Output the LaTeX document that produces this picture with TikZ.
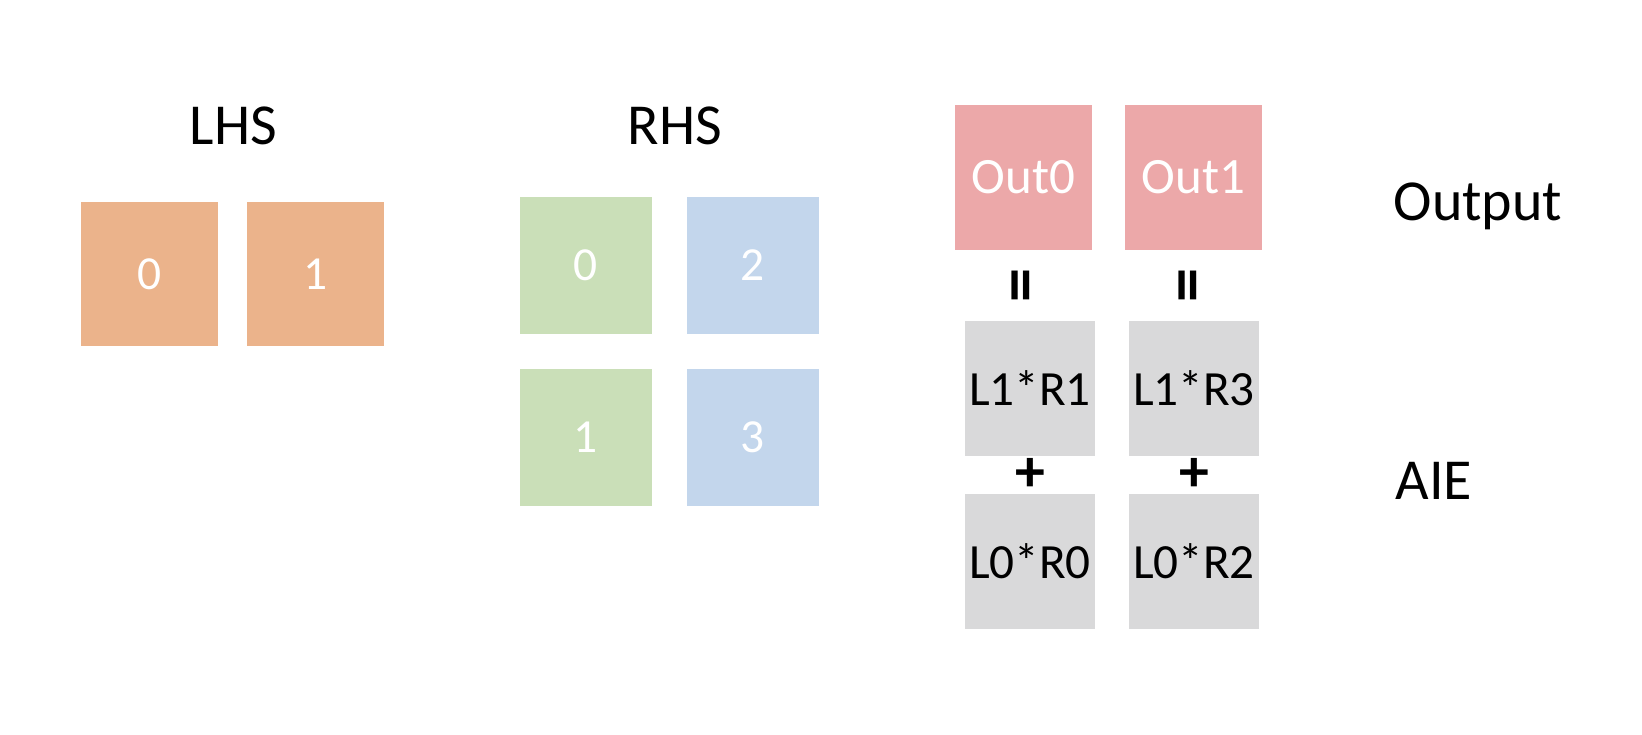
\documentclass[tikz,border=0pt]{standalone}
\usepackage{fontspec}
\setmainfont{Carlito}
\usetikzlibrary{positioning}
\definecolor{lhsorange}{HTML}{EBB38B}
\definecolor{rhsgreen}{HTML}{CADFB8}
\definecolor{rhsblue}{HTML}{C3D6EC}
\definecolor{outpink}{HTML}{ECA8A9}
\definecolor{aiegray}{HTML}{D9D9DA}
\tikzset{
  block/.style={rectangle, inner sep=0pt, outer sep=0pt, text=white, font=\fontsize{27}{30}\selectfont},
  lhsblock/.style={block, fill=lhsorange, minimum width=2.74cm, minimum height=2.88cm},
  greenblock/.style={block, fill=rhsgreen, minimum width=2.64cm, minimum height=2.74cm},
  blueblock/.style={block, fill=rhsblue, minimum width=2.64cm, minimum height=2.74cm},
  outblock/.style={block, fill=outpink, minimum width=2.74cm, minimum height=2.9cm, font=\fontsize{29}{32}\selectfont},
  aieblock/.style={block, fill=aiegray, text=black, minimum width=2.6cm, minimum height=2.7cm, font=\fontsize{28}{31}\selectfont},
  heading/.style={anchor=base, font=\fontsize{33}{36}\selectfont},
  op/.style={inner sep=0pt, font=\bfseries\fontsize{34}{36}\selectfont},
  eqop/.style={op, rotate=90, font=\bfseries\fontsize{39}{40}\selectfont}
}

\begin{document}
\begin{tikzpicture}
  \useasboundingbox (0,0) rectangle (32.84,-14.68);

  % LHS
  \node[lhsblock] (lhs0) at (2.99,-5.48) {0};
  \node[lhsblock, right=0.58cm of lhs0] (lhs1) {1};
  \node[heading] (lhs-title) at (4.67,-2.88) {LHS};

  % RHS
  \node[greenblock] (rhs0) at (11.72,-5.31) {0};
  \node[blueblock, right=0.7cm of rhs0] (rhs2) {2};
  \node[greenblock, below=0.7cm of rhs0] (rhs1) {1};
  \node[blueblock, below=0.7cm of rhs2] (rhs3) {3};
  \node[heading] (rhs-title) at (13.5,-2.88) {RHS};

  % Output = sum of AIE products
  \node[outblock] (out0) at (20.47,-3.55) {Out0};
  \node[outblock, right=0.66cm of out0] (out1) {Out1};
  \node[aieblock] (l1r1) at (20.6,-7.77) {L1*R1};
  \node[aieblock, right=0.68cm of l1r1] (l1r3) {L1*R3};
  \node[aieblock, below=0.76cm of l1r1] (l0r0) {L0*R0};
  \node[aieblock, below=0.76cm of l1r3] (l0r2) {L0*R2};
  \path (out0.south) -- node[eqop] (eq0) {=} (l1r1.north);
  \path (out1.south) -- node[eqop] (eq1) {=} (l1r3.north);
  \path (l1r1.south) -- node[op] (plus0) {+} (l0r0.north);
  \path (l1r3.south) -- node[op] (plus1) {+} (l0r2.north);
  \node[heading] (out-title) at (29.56,-4.4) {Output};
  \node[heading] (aie-title) at (28.68,-9.98) {AIE};
\end{tikzpicture}
\end{document}
